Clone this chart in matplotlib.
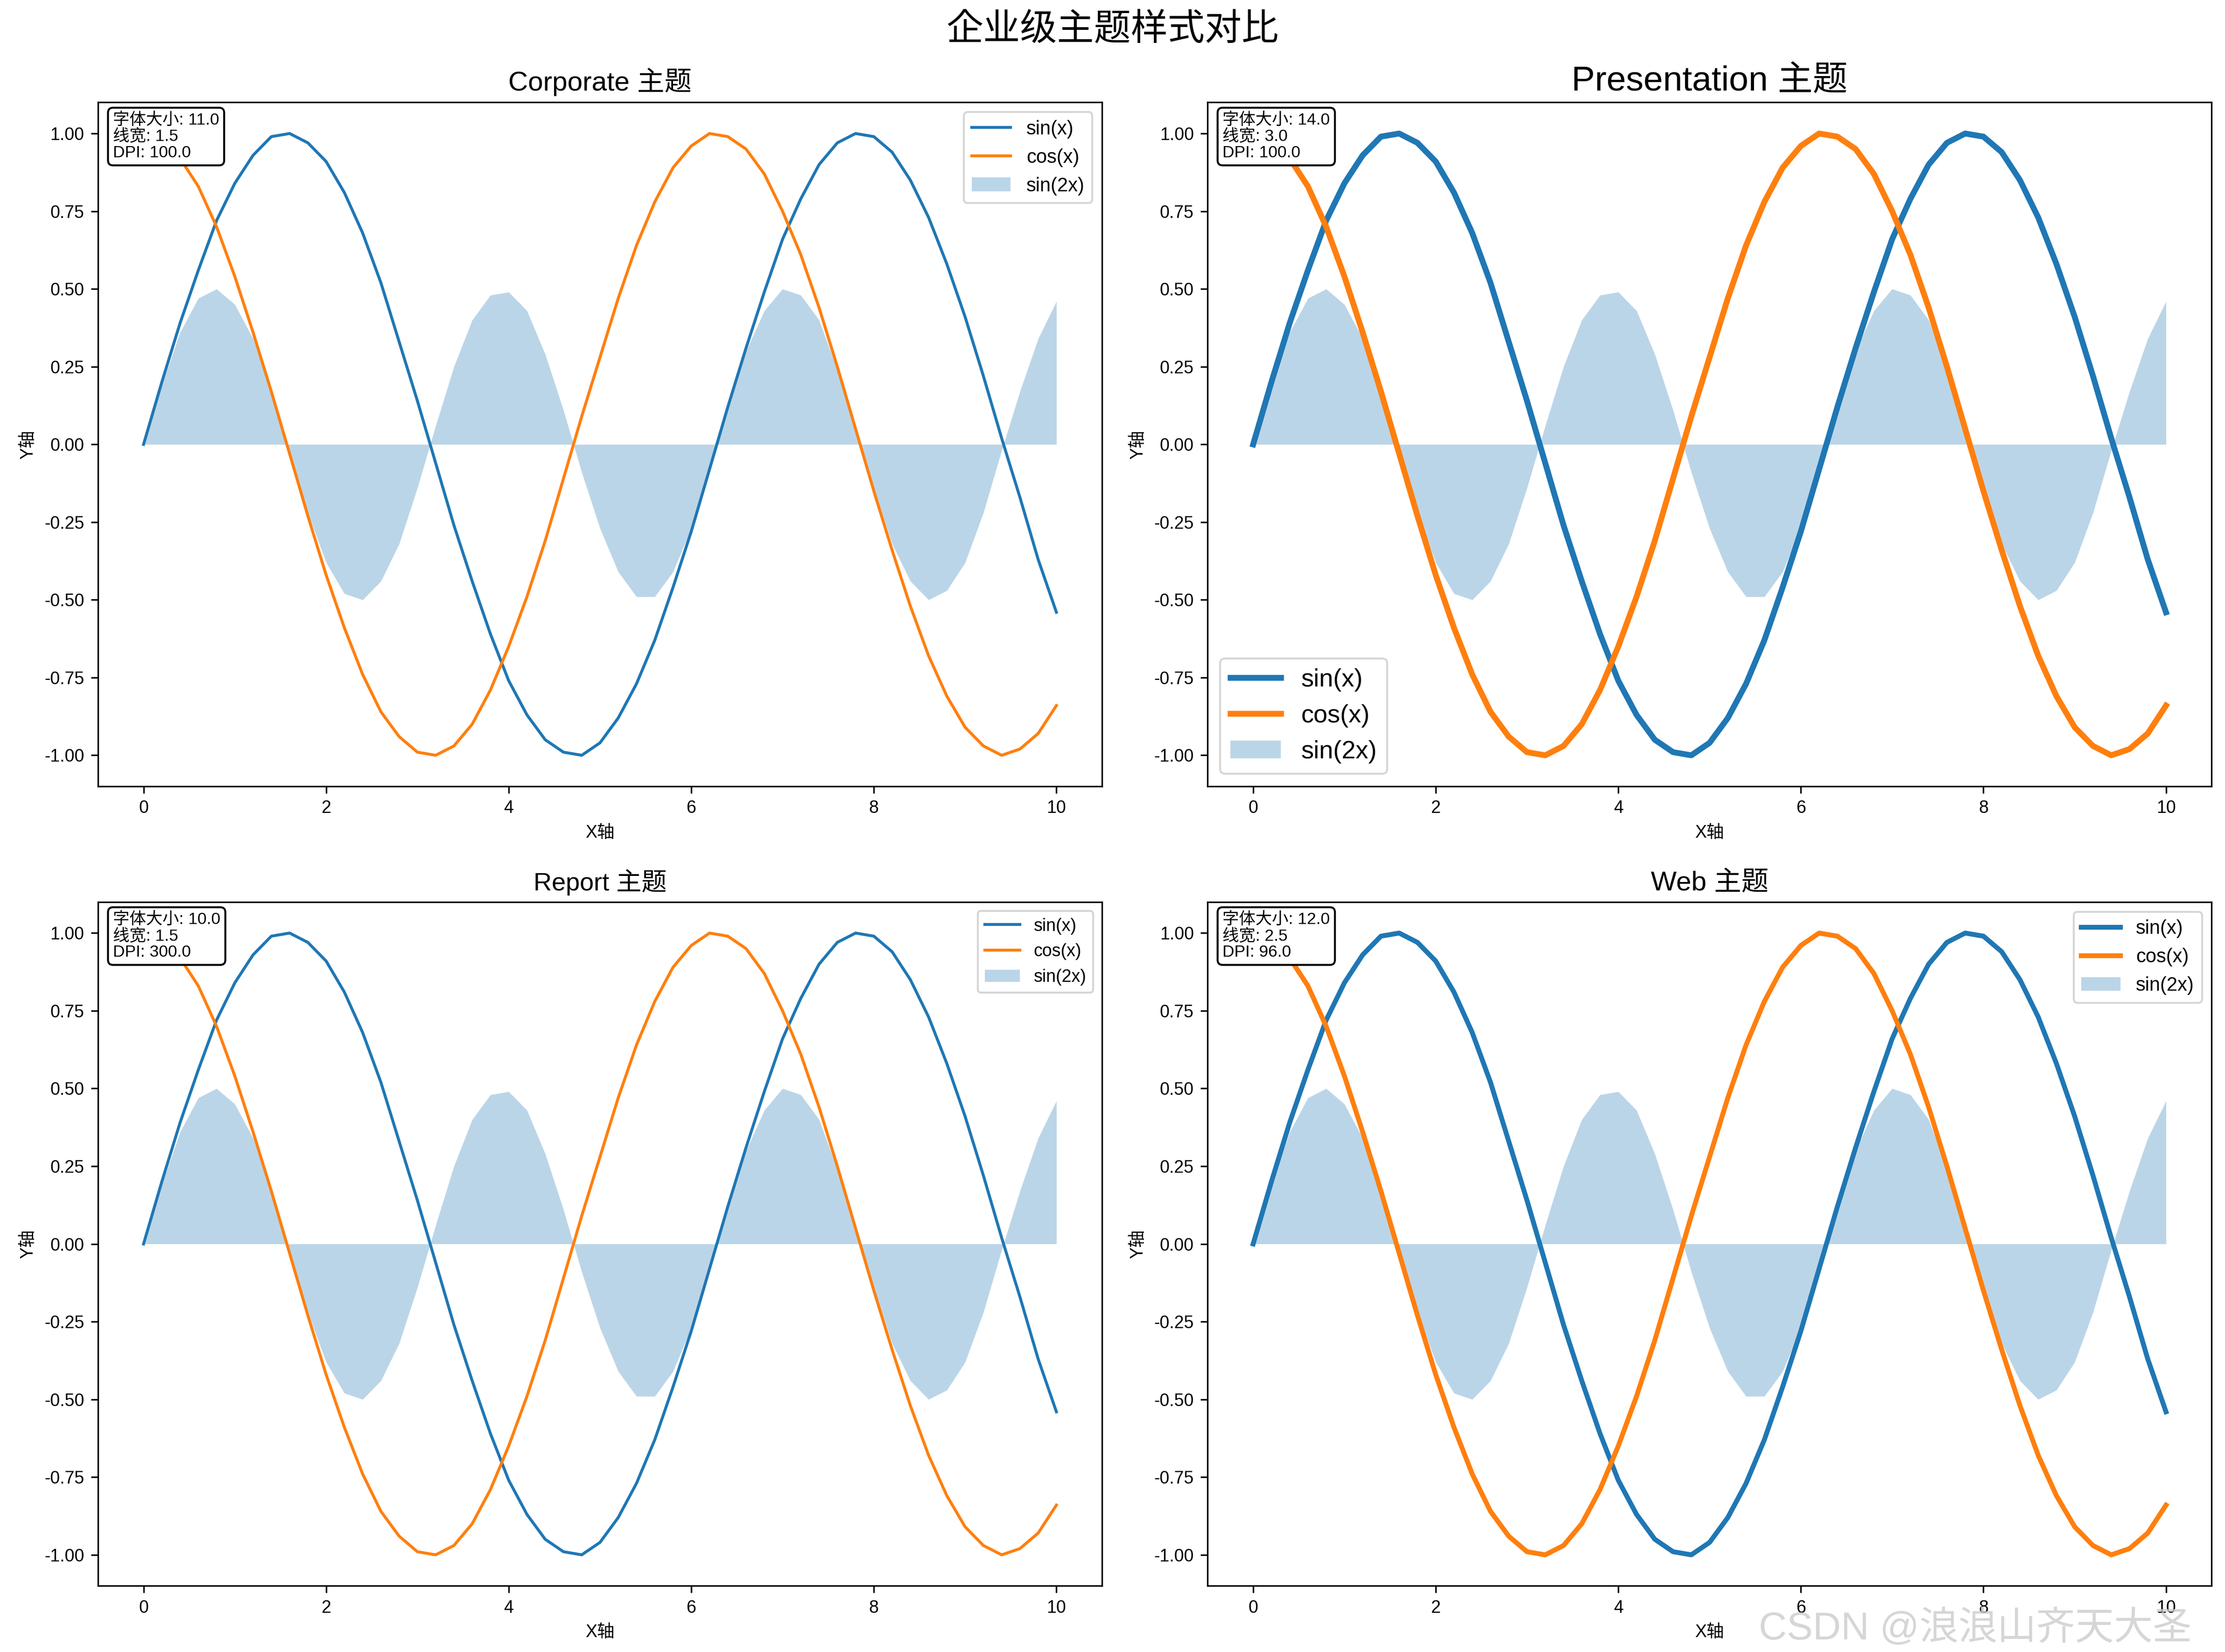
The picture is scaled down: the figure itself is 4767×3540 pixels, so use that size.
import matplotlib
matplotlib.use("Agg")
import matplotlib.pyplot as plt
from matplotlib import font_manager as fm

for p in fm.findSystemFonts():
    if "cjk" in p.lower():
        try:
            fm.fontManager.addfont(p)
        except Exception:
            pass
names = sorted({f.name for f in fm.fontManager.ttflist})
cjk = [n for n in names if "CJK" in n and "SC" in n] or [n for n in names if "CJK" in n]
latin = [n for n in ["Liberation Sans", "Arial"] if n in names]
plt.rcParams["font.family"] = latin + cjk + ["DejaVu Sans"]
plt.rcParams["axes.unicode_minus"] = False

x_vals = [i / 5 for i in range(51)]
sin_vals = [0, .20, .39, .56, .72, .84, .93, .99, 1.00, .97, .91, .81, .68, .52, .33, .14,
            -.06, -.26, -.44, -.61, -.76, -.87, -.95, -.99, -1.00, -.96, -.88, -.77, -.63, -.46,
            -.28, -.08, .12, .31, .49, .66, .79, .90, .97, 1.00, .99, .94, .85, .73, .58, .41,
            .22, .02, -.17, -.37, -.54]
cos_vals = [1, .98, .92, .83, .70, .54, .36, .17, -.03, -.23, -.42, -.59, -.74, -.86, -.94, -.99,
            -1.00, -.97, -.90, -.79, -.65, -.49, -.31, -.11, .09, .28, .47, .64, .78, .89, .96,
            1.00, .99, .95, .87, .75, .61, .44, .25, .05, -.15, -.34, -.52, -.68, -.81, -.91,
            -.97, -1.00, -.98, -.93, -.84]
sin2x_vals = [0, .19, .36, .47, .50, .45, .34, .17, -.03, -.22, -.38, -.48, -.50, -.44, -.32, -.14,
              .06, .25, .40, .48, .49, .43, .29, .11, -.09, -.27, -.41, -.49, -.49, -.41, -.27,
              -.08, .12, .30, .43, .50, .48, .40, .24, .05, -.14, -.32, -.44, -.50, -.47, -.38,
              -.22, -.02, .17, .34, .46]

themes = ["Corporate", "Presentation", "Report", "Web"]
font_sizes = [11.0, 14.0, 10.0, 12.0]
line_widths = [1.5, 3.0, 1.5, 2.5]
dpis = [100.0, 100.0, 300.0, 96.0]
title_sizes = [14, 18, 13, 14]
legend_sizes = [10, 13, 9, 10]
legend_locs = ["upper right", "lower left", "upper right", "upper right"]

fig, axes = plt.subplots(2, 2, figsize=(15.89, 11.8), dpi=300)
fig.subplots_adjust(left=0.044, right=0.994, top=0.938, bottom=0.040, wspace=0.105, hspace=0.169)
for ax, name, fs, lw, d, ts, ls, loc in zip(axes.flat, themes, font_sizes, line_widths, dpis,
                                            title_sizes, legend_sizes, legend_locs):
    ax.plot(x_vals, sin_vals, color="#1f77b4", lw=lw, label="sin(x)")
    ax.plot(x_vals, cos_vals, color="#ff7f0e", lw=lw, label="cos(x)")
    ax.fill_between(x_vals, sin2x_vals, 0, color="#1f77b4", alpha=0.3, lw=0, label="sin(2x)")
    ax.set_title(f"{name} 主题", fontsize=ts)
    ax.set_xlabel("X轴", fontsize=9)
    ax.set_ylabel("Y轴", fontsize=9)
    ax.set_ylim(-1.1, 1.1)
    ax.set_xlim(-0.5, 10.5)
    ax.tick_params(labelsize=9)
    ax.yaxis.set_major_formatter(matplotlib.ticker.FormatStrFormatter("%.2f"))
    ax.legend(loc=loc, fontsize=ls)
    ax.text(0.015, 0.985, f"字体大小: {fs}\n线宽: {lw}\nDPI: {d}", transform=ax.transAxes,
            fontsize=8.5, va="top", ha="left", linespacing=1.05,
            bbox=dict(boxstyle="round,pad=0.3", facecolor="white", edgecolor="black"))

fig.suptitle("企业级主题样式对比", fontsize=19, y=0.992)
fig.text(0.985, 0.003, "CSDN @浪浪山齐天大圣", fontsize=20, color="#cccccc", alpha=0.8,
         ha="right", va="bottom")
fig.savefig("out.png", dpi=300)
